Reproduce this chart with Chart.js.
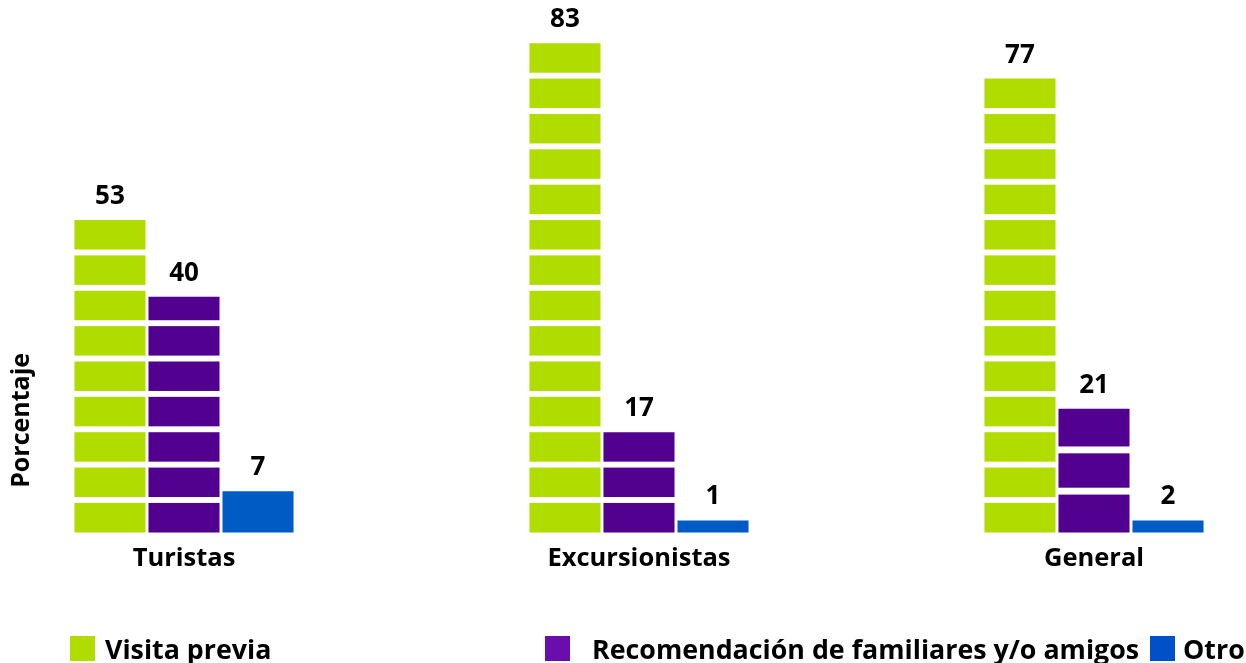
<!DOCTYPE html>
<html>
<head>
<meta charset="utf-8">
<script src="https://cdn.jsdelivr.net/npm/chart.js@4/dist/chart.umd.min.js"></script>
<style>
  html, body { margin: 0; padding: 0; background: #fff; }
  #wrap { position: relative; width: 1246px; height: 663px; }
  #leyenda { position: absolute; left: 0; top: 634px; width: 1246px; height: 28px;
             font: bold 26.8px "Open Sans", sans-serif; color: #000; }
  .item { position: absolute; top: 0; display: flex; align-items: center; white-space: nowrap; height: 28px; }
  .caja { width: 25px; height: 25px; display: inline-block; }
</style>
</head>
<body>
<div id="wrap">
  <canvas id="grafico" width="1246" height="663"></canvas>
  <div id="leyenda"></div>
</div>
<script>
var categorias = ["Turistas", "Excursionistas", "General"];
var series = ["Visita previa", "Recomendación de familiares y/o amigos", "Otro"];
var visitaPrevia = [53, 83, 77];
var recomendacion = [40, 17, 21];
var otro = [7, 1, 2];

var colores = ["#B0DC00", "#52008F", "#005BC4"];
var coloresLeyenda = ["#B0DC00", "#6A0DAD", "#0050C8"];

// cortes blancos del pictograma (paso en unidades del eje, 0 = sin cortes)
var pasoBloque = [[6, 6, 6], [6, 6, 7], [0, 0, 0]];
var origenBloque = [[77.5, 77.5, 77.5], [77.5, 77.5, 0], [0, 0, 0]];

var fuente = { family: "'Open Sans', sans-serif", size: 25.5, weight: 'bold' };

var cortes = {
    id: 'cortes',
    afterDatasetsDraw: function (chart) {
        var ctx = chart.ctx, y = chart.scales.y;
        ctx.save();
        ctx.fillStyle = '#fff';
        chart.data.datasets.forEach(function (ds, i) {
            chart.getDatasetMeta(i).data.forEach(function (bar, j) {
                var paso = pasoBloque[i][j];
                if (!paso) return;
                var v = ds.data[j];
                var hueco = paso / 6;
                for (var g = origenBloque[i][j] % paso; g < v; g += paso) {
                    if (g < 0.8 || g > v - 0.8) continue;
                    var y1 = y.getPixelForValue(g + hueco / 2);
                    var y2 = y.getPixelForValue(g - hueco / 2);
                    ctx.fillRect(bar.x - bar.width / 2 - 1, y1, bar.width + 2, y2 - y1);
                }
            });
        });
        ctx.restore();
    }
};

var etiquetas = {
    id: 'etiquetas',
    afterDatasetsDraw: function (chart) {
        var ctx = chart.ctx;
        ctx.save();
        ctx.fillStyle = '#000';
        ctx.font = 'bold 26px "Open Sans", sans-serif';
        ctx.textAlign = 'center';
        ctx.textBaseline = 'alphabetic';
        chart.data.datasets.forEach(function (ds, i) {
            chart.getDatasetMeta(i).data.forEach(function (bar, j) {
                ctx.fillText(ds.data[j], bar.x, bar.y - 16);
            });
        });
        // titulo del eje y
        ctx.font = 'bold 25px "Open Sans", sans-serif';
        ctx.translate(22, chart.chartArea.bottom - 112);
        ctx.rotate(-Math.PI / 2);
        ctx.textBaseline = 'middle';
        ctx.fillText('Porcentaje', 0, 0);
        ctx.restore();
    }
};

var valores = [visitaPrevia, recomendacion, otro];
var datasets = series.map(function (nombre, i) {
    return {
        label: nombre,
        data: valores[i],
        backgroundColor: colores[i],
        borderWidth: 0,
        minBarLength: 12,
        clip: false,
        categoryPercentage: 0.488,
        barPercentage: 0.96
    };
});

new Chart(document.getElementById('grafico'), {
    type: 'bar',
    data: { labels: categorias, datasets: datasets },
    options: {
        responsive: false,
        animation: false,
        layout: { padding: { left: 184, right: 152, top: 2, bottom: 86 } },
        plugins: { legend: { display: false }, tooltip: { enabled: false } },
        scales: {
            x: {
                offset: false,
                grid: { display: false },
                border: { display: false },
                ticks: { color: '#000', font: fuente, padding: 3, maxRotation: 0, autoSkip: false }
            },
            y: { display: false, min: 0, max: 90 }
        }
    },
    plugins: [cortes, etiquetas]
});

// leyenda
var posLeyenda = [70, 545, 1150];
var sepLeyenda = [10, 22, 8];
var leyenda = document.getElementById('leyenda');
series.forEach(function (nombre, i) {
    var item = document.createElement('div');
    item.className = 'item';
    item.style.left = posLeyenda[i] + 'px';
    var caja = document.createElement('span');
    caja.className = 'caja';
    caja.style.background = coloresLeyenda[i];
    caja.style.marginRight = sepLeyenda[i] + 'px';
    item.appendChild(caja);
    item.appendChild(document.createTextNode(nombre));
    leyenda.appendChild(item);
});
</script>
</body>
</html>
